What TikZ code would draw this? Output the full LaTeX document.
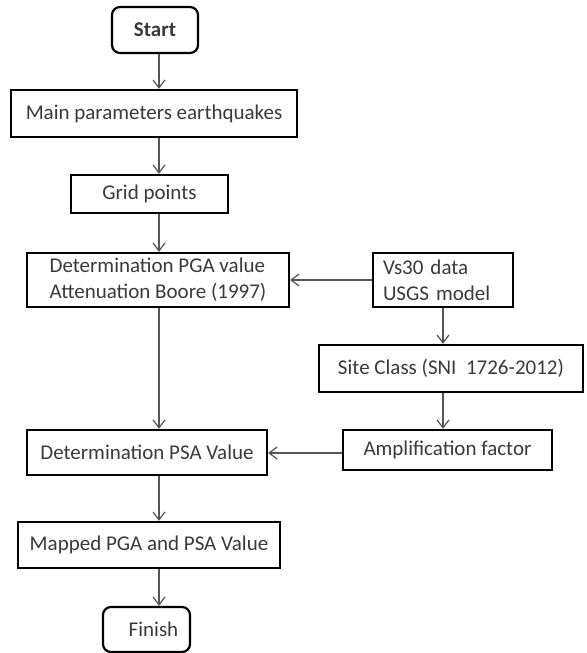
\documentclass[tikz,border=0pt]{standalone}
\usepackage{fontspec}
\setmainfont{Carlito}
\usetikzlibrary{arrows.meta}
\definecolor{txtgray}{HTML}{3A3A3A}
\definecolor{arrgray}{HTML}{555555}

\begin{document}
\begin{tikzpicture}[x=0.5pt,y=-0.5pt,
		box/.style={draw=black,line width=1.1pt,fill=white,text=txtgray,
			font=\fontsize{10.5}{13}\selectfont,inner sep=2pt},
		term/.style={box,rounded corners=4pt},
		flow/.style={draw=arrgray,line width=0.6pt,-{Straight Barb[length=4pt,width=6pt]}}]
		\useasboundingbox[fill=white] (0,0) rectangle (586,653);
		% main column
		\node[term,minimum width=43pt,minimum height=23pt] (start) at (155,30) {\textbf{Start}};
		\node[box,minimum width=143pt,minimum height=23.5pt] (params) at (154,113.5) {Main parameters earthquakes};
		\node[box,minimum width=78.5pt,minimum height=19pt] (grid) at (149.5,194) {Grid points};
		\node[box,minimum width=131pt,minimum height=27pt,align=left] (pga) at (158,280) {Determination PGA value\\Attenuation Boore (1997)};
		\node[box,minimum width=120pt,minimum height=22.5pt] (psa) at (147,452.5) {Determination PSA Value};
		\node[box,minimum width=131pt,minimum height=23pt] (mapped) at (149,545) {Mapped PGA and PSA Value};
		\node[term,minimum width=43.5pt,minimum height=22.5pt] (finish) at (146.5,629.5) {\hspace*{7pt}Finish};
		% right column
		\node[box,text width=60pt,inner xsep=5pt,minimum height=27pt,align=left] (vs30) at (443,280) {Vs30 data\\USGS model};
		\node[box,minimum width=132pt,minimum height=23.5pt] (site) at (451,368.5) {Site Class (SNI~~1726-2012)};
		\node[box,minimum width=104.5pt,minimum height=20pt] (amp) at (447.5,450) {Amplification factor};
		% connectors
		\coordinate (spine) at (159,0);
		\foreach \a/\b in {start/params,params/grid,grid/pga,pga/psa,psa/mapped,mapped/finish}{
			\draw[flow] (\a.south -| spine) -- (\b.north -| spine);
		}
		\draw[flow] (vs30.west) -- (vs30.west -| pga.east);
		\draw[flow] (vs30.south) -- (vs30.south |- site.north);
		\draw[flow] (vs30.south |- site.south) -- (vs30.south |- amp.north);
		\draw[flow] (amp.west |- 0,453) -- (psa.east |- 0,453);
	\end{tikzpicture}
\end{document}
